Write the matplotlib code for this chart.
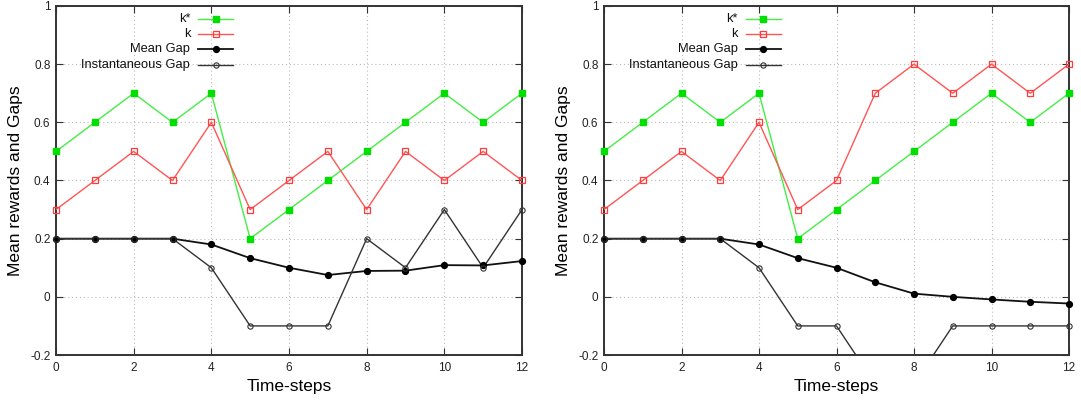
import numpy as np
import matplotlib
matplotlib.use("Agg")
import matplotlib.pyplot as plt

plt.rcParams["font.family"] = ["Liberation Sans", "DejaVu Sans"]

steps = list(range(13))

# left panel
k_star_a = [0.5, 0.6, 0.7, 0.6, 0.7, 0.2, 0.3, 0.4, 0.5, 0.6, 0.7, 0.6, 0.7]
k_a = [0.3, 0.4, 0.5, 0.4, 0.6, 0.3, 0.4, 0.5, 0.3, 0.5, 0.4, 0.5, 0.4]
mean_gap_a = [0.2, 0.2, 0.2, 0.2, 0.18, 0.133, 0.1, 0.075, 0.089, 0.09, 0.109, 0.108, 0.123]
inst_gap_a = [0.2, 0.2, 0.2, 0.2, 0.1, -0.1, -0.1, -0.1, 0.2, 0.1, 0.3, 0.1, 0.3]

# right panel
k_star_b = [0.5, 0.6, 0.7, 0.6, 0.7, 0.2, 0.3, 0.4, 0.5, 0.6, 0.7, 0.6, 0.7]
k_b = [0.3, 0.4, 0.5, 0.4, 0.6, 0.3, 0.4, 0.7, 0.8, 0.7, 0.8, 0.7, 0.8]
mean_gap_b = [0.2, 0.2, 0.2, 0.2, 0.18, 0.133, 0.1, 0.05, 0.011, 0.0, -0.009, -0.017, -0.023]
inst_gap_b = [0.2, 0.2, 0.2, 0.2, 0.1, -0.1, -0.1, -0.3, -0.3, -0.1, -0.1, -0.1, -0.1]

labels = ["k*", "k", "Mean Gap", "Instantaneous Gap"]
x_ticks = [0, 2, 4, 6, 8, 10, 12]
y_ticks = [-0.2, 0, 0.2, 0.4, 0.6, 0.8, 1]
y_tick_labels = ["-0.2", "0", "0.2", "0.4", "0.6", "0.8", "1"]

GREEN = "#00e000"
GREEN_LINE = "#44ee44"
RED = "#ff3b3b"
RED_LINE = "#ff5555"

line_styles = [
    dict(color=GREEN_LINE, lw=1.0),
    dict(color=RED_LINE, lw=1.0),
    dict(color="#111111", lw=1.3),
    dict(color="#333333", lw=1.0),
]
marker_styles = [
    dict(marker="s", ms=4.2, mfc=GREEN, mec=GREEN),
    dict(marker="s", ms=4.2, mfc="none", mec=RED, mew=0.9),
    dict(marker="o", ms=4.2, mfc="black", mec="black"),
    dict(marker="o", ms=3.8, mfc="none", mec="#333333", mew=0.8),
]


def draw_panel(ax, series):
    for vals, ls, ms in zip(series, line_styles, marker_styles):
        ax.plot(steps, vals, zorder=3, **ls)
        shown = np.ma.masked_outside(vals, -0.2, 1.0)
        ax.plot(steps, shown, ls="none", clip_on=False, zorder=4, **ms)

    ax.set_xlim(0, 12)
    ax.set_ylim(-0.2, 1)
    ax.set_xticks(x_ticks)
    ax.set_yticks(y_ticks)
    ax.set_yticklabels(y_tick_labels)
    ax.tick_params(direction="in", top=True, right=True, labelsize=8.5,
                   length=5, width=0.8, colors="#333333", labelcolor="#222222")
    ax.tick_params(axis="x", pad=5)
    ax.tick_params(axis="y", pad=4)
    ax.grid(True, ls=(0, (1, 2.5)), color="#bbbbbb", lw=0.8)
    for sp in ax.spines.values():
        sp.set_linewidth(1.4)
        sp.set_color("#333333")
    ax.set_xlabel("Time-steps", fontsize=12.5, labelpad=4)
    ax.set_ylabel("Mean rewards and Gaps", fontsize=12.5, labelpad=5)

    # gnuplot-style key: text right aligned, sample to the right
    rows = [0.963, 0.920, 0.877, 0.831]
    for lab, ls, ms, y in zip(labels, line_styles, marker_styles, rows):
        ax.text(0.288, y, lab, transform=ax.transAxes, ha="right", va="center",
                fontsize=9.3, color="#111111")
        ax.plot([0.305, 0.343, 0.380], [y, y, y], transform=ax.transAxes,
                markevery=[1], clip_on=False, zorder=4, **ls, **ms)


fig = plt.figure(figsize=(10.81, 4.03), dpi=100)
ax1 = fig.add_axes([56 / 1081, 48 / 403, 466 / 1081, 349 / 403])
ax2 = fig.add_axes([604 / 1081, 48 / 403, 465 / 1081, 349 / 403])

draw_panel(ax1, [k_star_a, k_a, mean_gap_a, inst_gap_a])
draw_panel(ax2, [k_star_b, k_b, mean_gap_b, inst_gap_b])

fig.savefig("out.png", dpi=100)
